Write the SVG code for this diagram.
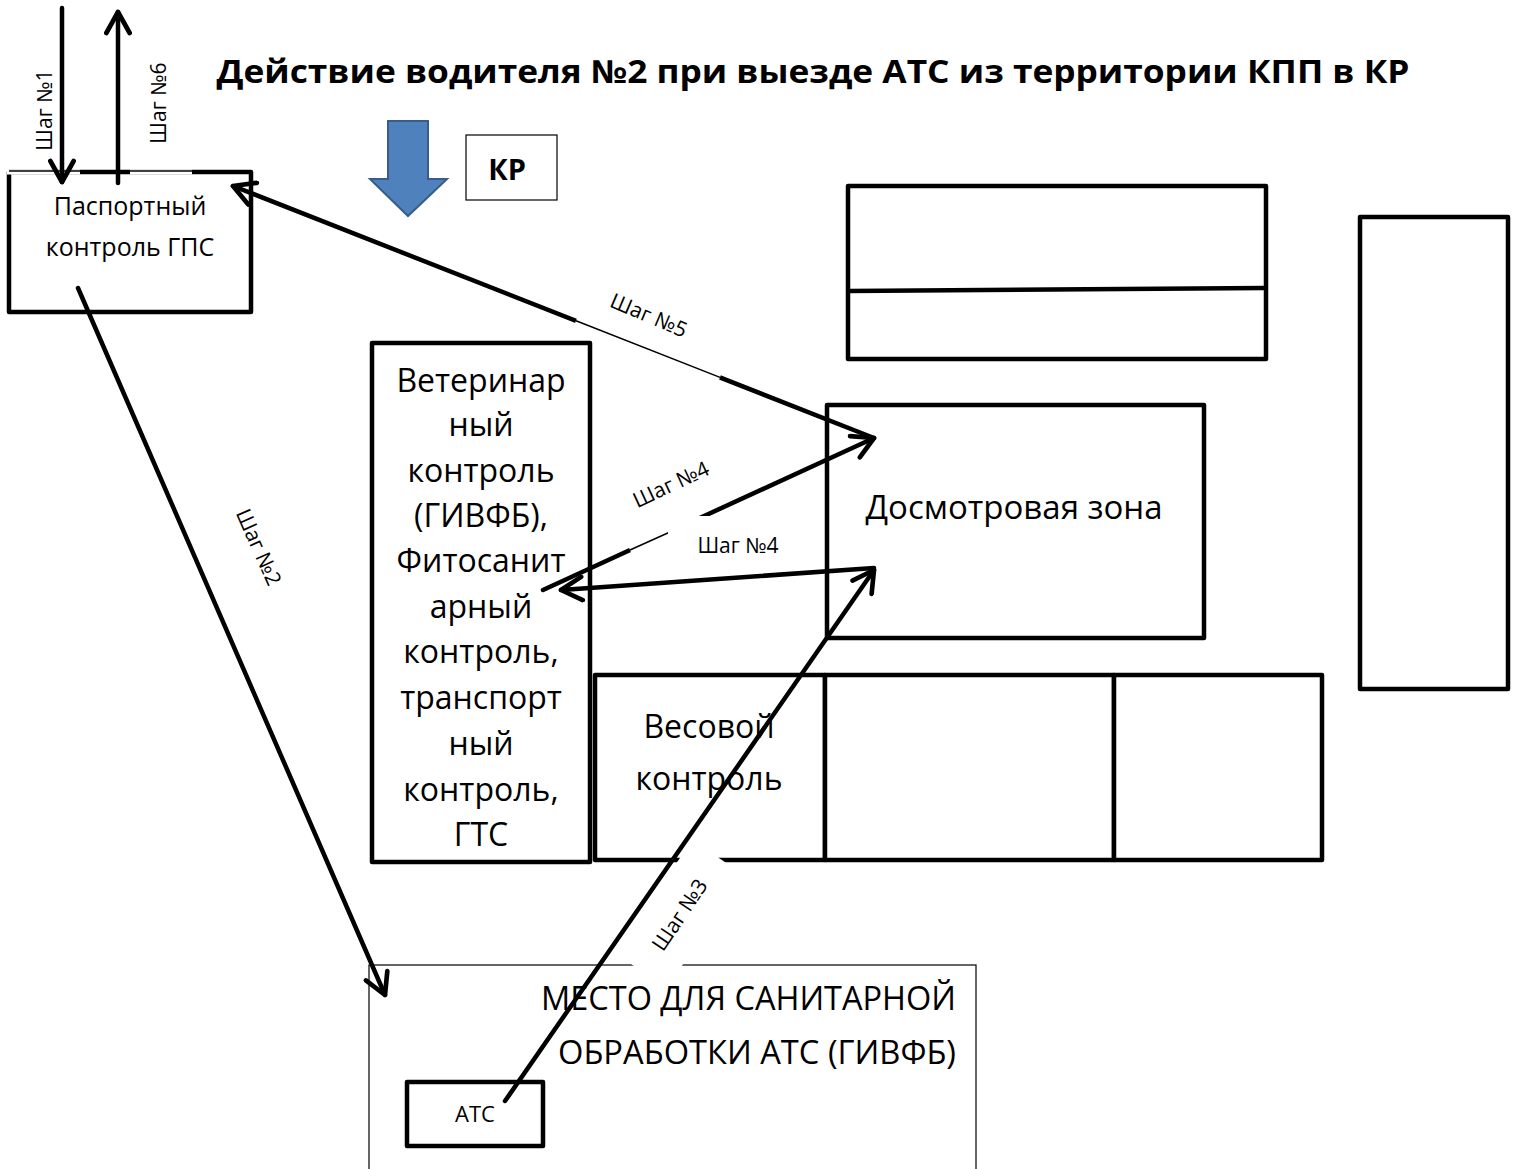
<svg xmlns="http://www.w3.org/2000/svg" width="1516" height="1169" viewBox="0 0 1516 1169">
<style>
.box{fill:#fff;stroke:#000;stroke-width:4.5;stroke-linejoin:round}
.thin{fill:#fff;stroke:#000;stroke-width:1.2}
.t{font-family:"Open Sans","Noto Sans",sans-serif;fill:#000}
.lbl{font-family:"Open Sans","Noto Sans",sans-serif;font-size:21px;fill:#000}
.con{stroke:#000;stroke-width:4.5;fill:none;stroke-linecap:round}
</style>
<defs>
<marker id="ah" viewBox="0 0 24 24" markerWidth="28" markerHeight="28" refX="21" refY="12" orient="auto" markerUnits="userSpaceOnUse">
<path d="M3,2 L21,12 L3,22" fill="none" stroke="#000" stroke-width="4" stroke-linecap="round" stroke-linejoin="round"/>
</marker>
</defs>
<rect width="1516" height="1169" fill="#fff"/>

<text class="t" x="813" y="83" font-size="32" font-weight="bold" text-anchor="middle" textLength="1193" lengthAdjust="spacingAndGlyphs">Действие водителя №2 при выезде АТС из территории КПП в КР</text>

<g id="passport">
<rect class="box" x="9" y="172" width="242" height="140"/>
<line x1="7" y1="172" x2="80" y2="172" stroke="#fff" stroke-width="5"/>
<line x1="9" y1="171" x2="80" y2="171" stroke="#000" stroke-width="1.5"/>
<line x1="130" y1="172" x2="192" y2="172" stroke="#fff" stroke-width="5"/>
<line x1="130" y1="171" x2="192" y2="171" stroke="#000" stroke-width="1.5"/>
<text class="t" x="130" y="215" font-size="25" text-anchor="middle">Паспортный</text>
<text class="t" x="130" y="256" font-size="25" text-anchor="middle">контроль ГПС</text>
</g>

<g id="kr-arrow">
<path d="M388,121 L428,121 L428,179 L447,179 L408,216 L370,179 L388,179 Z" fill="#4f81bd" stroke="#385d8a" stroke-width="2"/>
</g>
<g id="kr">
<rect class="thin" x="466" y="135" width="91" height="65"/>
<text class="t" x="507" y="180" font-size="29" font-weight="bold" text-anchor="middle">КР</text>
</g>

<g id="top-box">
<rect class="box" x="848" y="186" width="418" height="173"/>
<line x1="849" y1="291" x2="1265" y2="288" stroke="#000" stroke-width="4.5"/>
</g>
<g id="right-box">
<rect class="box" x="1360" y="217" width="148" height="472"/>
</g>

<g id="vet">
<rect class="box" x="372" y="343" width="218" height="519"/>
<g class="t" font-size="32" text-anchor="middle">
<text x="481" y="392">Ветеринар</text>
<text x="481" y="436">ный</text>
<text x="481" y="482">контроль</text>
<text x="481" y="527">(ГИВФБ),</text>
<text x="481" y="572">Фитосанит</text>
<text x="481" y="618">арный</text>
<text x="481" y="663">контроль,</text>
<text x="481" y="709">транспорт</text>
<text x="481" y="755">ный</text>
<text x="481" y="801">контроль,</text>
<text x="481" y="846">ГТС</text>
</g>
</g>

<g id="inspection">
<rect class="box" x="827" y="405" width="377" height="233"/>
<text class="t" x="1014" y="519" font-size="33" text-anchor="middle">Досмотровая зона</text>
</g>

<g id="weight">
<rect class="box" x="595" y="675" width="230" height="185"/>
<text class="t" x="709" y="738" font-size="32" text-anchor="middle">Весовой</text>
<text class="t" x="709" y="790" font-size="32" text-anchor="middle">контроль</text>
</g>
<g id="bay2">
<rect class="box" x="825" y="675" width="289" height="185"/>
</g>
<g id="bay3">
<rect class="box" x="1114" y="675" width="208" height="185"/>
</g>

<g id="sanitary">
<rect class="thin" x="369" y="965" width="607" height="215"/>
<text class="t" x="956" y="1010" font-size="32" text-anchor="end" textLength="415" lengthAdjust="spacingAndGlyphs">МЕСТО ДЛЯ САНИТАРНОЙ</text>
<text class="t" x="956" y="1064" font-size="32" text-anchor="end" textLength="398" lengthAdjust="spacingAndGlyphs">ОБРАБОТКИ АТС (ГИВФБ)</text>
</g>

<g id="ats">
<rect class="box" x="407" y="1082" width="136" height="64"/>
<text class="t" x="475" y="1122" font-size="22" text-anchor="middle">АТС</text>
</g>

<g id="connectors">
<line class="con" x1="62" y1="8" x2="62" y2="182" marker-end="url(#ah)"/>
<line class="con" x1="118" y1="183" x2="118" y2="12" marker-end="url(#ah)"/>
<line class="con" x1="78" y1="288" x2="385" y2="995" marker-end="url(#ah)"/>
<line class="con" x1="505" y1="1101" x2="874" y2="570" marker-end="url(#ah)"/>
<line class="con" x1="543" y1="590" x2="874" y2="438" marker-end="url(#ah)"/>
<line class="con" x1="874" y1="568" x2="561" y2="590" marker-end="url(#ah)"/>
<line class="con" x1="874" y1="438" x2="233" y2="186" marker-end="url(#ah)"/>
<line x1="576" y1="320.8" x2="720" y2="377.4" stroke="#fff" stroke-width="6"/>
<line x1="576" y1="320.8" x2="720" y2="377.4" stroke="#000" stroke-width="1.5"/>
<line x1="630" y1="550" x2="670" y2="532" stroke="#fff" stroke-width="6"/>
<line x1="630" y1="550" x2="670" y2="532" stroke="#000" stroke-width="1.5"/>
</g>

<g id="labels">
<text class="lbl" transform="translate(52,110) rotate(-90)" text-anchor="middle">Шаг №1</text>
<text class="lbl" transform="translate(166,103) rotate(-90)" text-anchor="middle">Шаг №6</text>
<text class="lbl" transform="translate(252,550) rotate(66)" text-anchor="middle">Шаг №2</text>
<g transform="translate(680,915) rotate(-56)">
<rect x="-68" y="-32" width="137" height="62" fill="#fff"/>
<text class="lbl" x="0" y="7" text-anchor="middle">Шаг №3</text>
</g>
<text class="lbl" transform="translate(674,491) rotate(-25)" text-anchor="middle">Шаг №4</text>
<rect x="668" y="516" width="154" height="50" fill="#fff"/>
<text class="lbl" x="738" y="553" text-anchor="middle">Шаг №4</text>
<text class="lbl" transform="translate(646,322) rotate(23)" text-anchor="middle">Шаг №5</text>
</g>
</svg>
